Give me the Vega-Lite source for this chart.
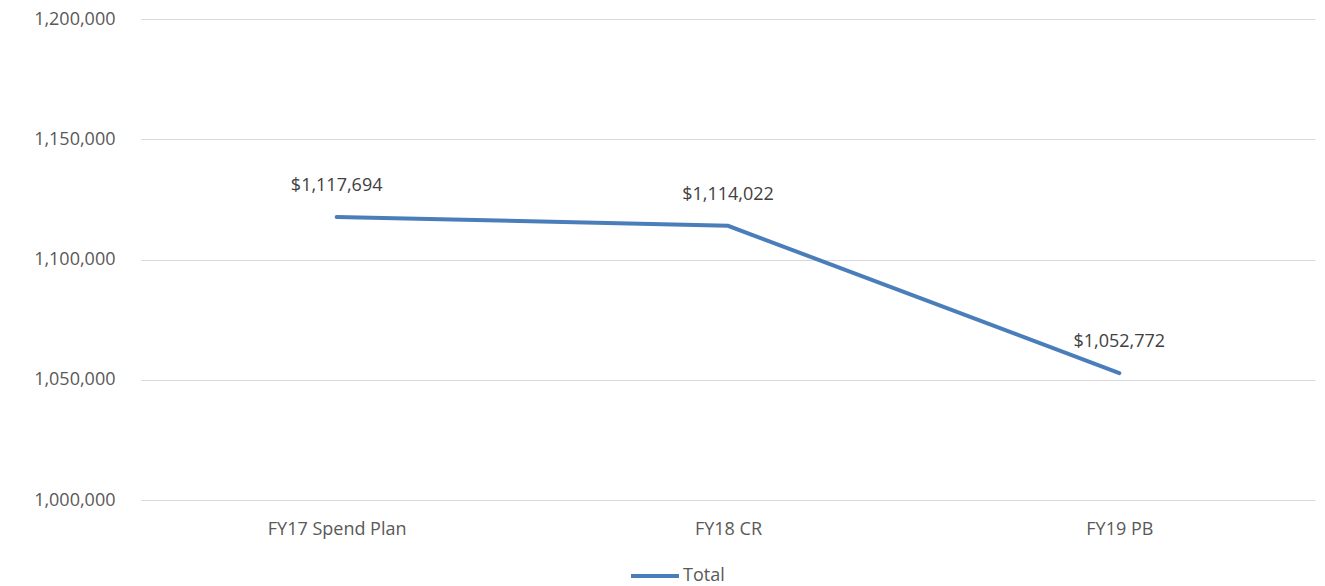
{
  "$schema": "https://vega.github.io/schema/vega-lite/v6.json",
  "width": 1174,
  "height": 481,
  "autosize": {"type": "none"},
  "padding": {"left": 141, "top": 19, "right": 10, "bottom": 86},
  "background": "white",
  "config": {
    "view": {"stroke": null},
    "font": "Open Sans"
  },
  "data": {
    "values": [
      {"category": "FY17 Spend Plan", "value": 1117694, "series": "Total"},
      {"category": "FY18 CR", "value": 1114022, "series": "Total"},
      {"category": "FY19 PB", "value": 1052772, "series": "Total"}
    ]
  },
  "encoding": {
    "x": {
      "field": "category",
      "type": "ordinal",
      "sort": null,
      "scale": {"type": "point", "padding": 0.5},
      "axis": {
        "title": null,
        "domain": false,
        "ticks": false,
        "labelAngle": 0,
        "labelPadding": 20,
        "labelFontSize": 18,
        "labelColor": "#595959",
        "labelFont": "Open Sans"
      }
    },
    "y": {
      "field": "value",
      "type": "quantitative",
      "scale": {"domain": [1000000, 1200000], "nice": false, "zero": false},
      "axis": {
        "title": null,
        "values": [1000000, 1050000, 1100000, 1150000, 1200000],
        "format": ",d",
        "domain": false,
        "ticks": false,
        "labelPadding": 26,
        "labelFontSize": 18,
        "labelColor": "#595959",
        "labelFont": "Open Sans",
        "gridColor": "#d9d9d9",
        "gridWidth": 1
      }
    }
  },
  "layer": [
    {
      "mark": {"type": "line", "strokeWidth": 4, "strokeCap": "round"},
      "encoding": {
        "color": {
          "field": "series",
          "type": "nominal",
          "scale": {"range": ["#4a7ebb"]},
          "legend": {
            "title": null,
            "orient": "none",
            "legendX": 488,
            "legendY": 531,
            "padding": 0,
            "symbolType": "stroke",
            "symbolSize": 2304,
            "symbolStrokeWidth": 4,
            "labelFontSize": 18,
            "labelColor": "#595959",
            "labelFont": "Open Sans",
            "labelOffset": 2
          }
        }
      }
    },
    {
      "mark": {"type": "text", "dy": -31, "fontSize": 18, "color": "#404040", "font": "Open Sans"},
      "encoding": {
        "text": {"field": "value", "type": "quantitative", "format": "$,d"}
      }
    }
  ]
}
